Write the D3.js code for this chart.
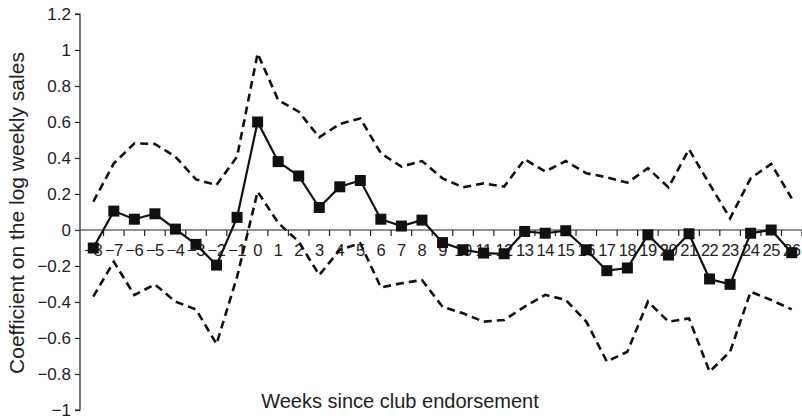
<!DOCTYPE html>
<html>
<head>
<meta charset="utf-8">
<script src="https://cdn.jsdelivr.net/npm/d3@7"></script>
<style>
  html, body { margin: 0; padding: 0; background: #fff; }
  svg { display: block; font-family: "Liberation Sans", Arial, sans-serif; }
</style>
</head>
<body>
<svg id="chart" width="802" height="420"></svg>
<script>
const weeks = [-8,-7,-6,-5,-4,-3,-2,-1,0,1,2,3,4,5,6,7,8,9,10,11,12,13,14,15,16,17,18,19,20,21,22,23,24,25,26];
const coefficient = [-0.10,0.105,0.06,0.09,0.005,-0.08,-0.195,0.07,0.60,0.38,0.30,0.125,0.24,0.275,0.06,0.022,0.055,-0.07,-0.11,-0.128,-0.132,-0.008,-0.018,-0.004,-0.11,-0.226,-0.211,-0.027,-0.139,-0.021,-0.272,-0.302,-0.018,0.0,-0.126];
const upperBound = [0.157,0.37,0.481,0.478,0.407,0.281,0.25,0.407,0.981,0.722,0.657,0.515,0.589,0.62,0.426,0.352,0.383,0.287,0.237,0.259,0.241,0.393,0.325,0.383,0.315,0.293,0.263,0.343,0.237,0.448,0.255,0.065,0.287,0.367,0.176];
const lowerBound = [-0.37,-0.176,-0.361,-0.302,-0.398,-0.441,-0.633,-0.26,0.213,0.04,-0.065,-0.25,-0.11,-0.074,-0.319,-0.296,-0.278,-0.426,-0.463,-0.509,-0.5,-0.426,-0.36,-0.389,-0.509,-0.731,-0.676,-0.398,-0.509,-0.491,-0.787,-0.676,-0.343,-0.389,-0.441];
const yTicks = [1.2,1,0.8,0.6,0.4,0.2,0,-0.2,-0.4,-0.6,-0.8,-1];
const xTitle = "Weeks since club endorsement";
const yTitle = "Coefficient on the log weekly sales";

const svg = d3.select("#chart");
const fmtNum = v => (v < 0 ? "\u2212" : "") + String(Math.abs(v));

const x = d3.scaleBand().domain(weeks).range([83, 802]).paddingInner(0).paddingOuter(0);
const xc = w => x(w) + x.bandwidth() / 2;
const y = d3.scaleLinear().domain([-1, 1.2]).range([410, 14]);
const axisX = 80;

// Y axis
const yAxis = d3.axisLeft(y).tickValues(yTicks).tickSize(5).tickPadding(4).tickFormat(fmtNum);
const gy = svg.append("g").attr("transform", `translate(${axisX},0)`).call(yAxis);
gy.select(".domain").attr("d", `M-5,${y(1.2)}H0V${y(-1)}H-5`).attr("stroke", "#222").attr("stroke-width", 1.2);
gy.selectAll(".tick line").attr("stroke", "#222").attr("stroke-width", 1.2);
gy.selectAll(".tick text").attr("font-size", 17).attr("fill", "#222").attr("font-family", "Liberation Sans, Arial, sans-serif");

// X axis at zero
const gx = svg.append("g").attr("transform", `translate(0,${y(0)})`);
gx.append("line").attr("x1", axisX).attr("x2", 802).attr("y1", 0).attr("y2", 0).attr("stroke", "#222").attr("stroke-width", 1.2);
gx.selectAll("line.bt").data(weeks.slice(1)).enter().append("line").attr("class", "bt")
  .attr("x1", d => x(d)).attr("x2", d => x(d)).attr("y1", 0).attr("y2", 6)
  .attr("stroke", "#222").attr("stroke-width", 1.2);
gx.append("line").attr("x1", x.range()[1]).attr("x2", x.range()[1]).attr("y1", 0).attr("y2", 6).attr("stroke", "#222").attr("stroke-width", 1.2);
gx.selectAll("text.xl").data(weeks).enter().append("text").attr("class", "xl")
  .attr("x", d => xc(d)).attr("y", 26).attr("text-anchor", "middle")
  .attr("font-size", 16.5).attr("fill", "#222").attr("letter-spacing", "-0.5")
  .text(d => fmtNum(d));

// Titles
svg.append("text").attr("x", 400).attr("y", 408).attr("text-anchor", "middle")
  .attr("font-size", 20).attr("fill", "#222").text(xTitle);
svg.append("text").attr("transform", "translate(24,213) rotate(-90)").attr("text-anchor", "middle")
  .attr("font-size", 21).attr("fill", "#222").text(yTitle);

// Lines
const line = d3.line().x((d, i) => xc(weeks[i])).y(d => y(d));
svg.append("path").datum(upperBound).attr("d", line).attr("fill", "none")
  .attr("stroke", "#111").attr("stroke-width", 2.6).attr("stroke-dasharray", "8,5");
svg.append("path").datum(lowerBound).attr("d", line).attr("fill", "none")
  .attr("stroke", "#111").attr("stroke-width", 2.6).attr("stroke-dasharray", "8,5");
svg.append("path").datum(coefficient).attr("d", line).attr("fill", "none")
  .attr("stroke", "#111").attr("stroke-width", 2.2);

const ms = 11;
svg.selectAll("rect.m").data(coefficient).enter().append("rect").attr("class", "m")
  .attr("x", (d, i) => xc(weeks[i]) - ms / 2).attr("y", d => y(d) - ms / 2)
  .attr("width", ms).attr("height", ms).attr("fill", "#111");
</script>
</body>
</html>
